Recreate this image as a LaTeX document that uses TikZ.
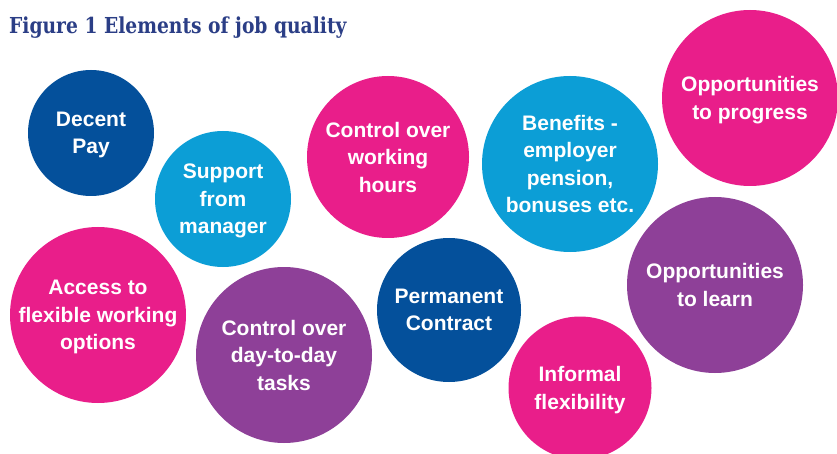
\documentclass[tikz,border=0pt]{standalone}
\usepackage{fontspec}
\setsansfont{Liberation Sans}
\newfontfamily\titlefont{DejaVu Serif}
\usepackage{tikz}

\definecolor{DarkBlue}{HTML}{04509B}
\definecolor{SkyBlue}{HTML}{0C9ED6}
\definecolor{Magenta}{HTML}{E91E8A}
\definecolor{Plum}{HTML}{8E4098}
\definecolor{TitleBlue}{HTML}{2B3E86}

\begin{document}
\begin{tikzpicture}[x=1pt, y=-1pt,
      every node/.style={circle, inner sep=0pt, align=center, text=white, text depth=-5pt,
        font=\sffamily\bfseries\fontsize{21}{27.5}\selectfont},
      bubble/.style 2 args={fill=#1, minimum size=#2}]
    \useasboundingbox (0,0) rectangle (837,454);
    \node (title) [rectangle, anchor=base west, text=TitleBlue, text depth=,
      font=\titlefont\bfseries\fontsize{22}{24}\selectfont] at (9,34)
      {\scalebox{0.85}[1]{Figure 1 Elements of job quality}};
    % top row
    \node (pay) [bubble={DarkBlue}{126pt}] at (91,133) {Decent\\Pay};
    \node (support) [bubble={SkyBlue}{136pt}] at (223,199) {Support\\from\\manager};
    \node (hours) [bubble={Magenta}{162pt}] at (388,157) {Control over\\working\\hours};
    \node (benefits) [bubble={SkyBlue}{176pt}] at (570,164) {Benefits -\\employer\\pension,\\bonuses etc.};
    \node (progress) [bubble={Magenta}{176pt}] at (750,98) {Opportunities\\to progress};
    % bottom row
    \node (access) [bubble={Magenta}{176pt}] at (98,315) {Access to\\flexible working\\options};
    \node (tasks) [bubble={Plum}{176pt}] at (284,355) {Control over\\day-to-day\\tasks};
    \node (contract) [bubble={DarkBlue}{144pt}] at (449,310) {Permanent\\Contract};
    \node (informal) [bubble={Magenta}{143pt}] at (580,388) {Informal\\flexibility};
    \node (learn) [bubble={Plum}{176pt}] at (715,285) {Opportunities\\to learn};
  \end{tikzpicture}
\end{document}
